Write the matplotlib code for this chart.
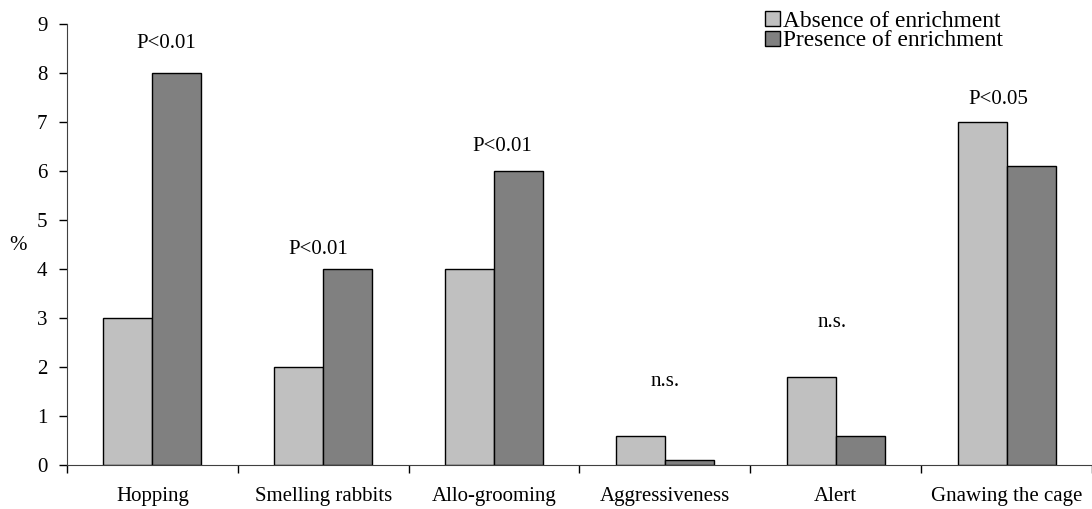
import matplotlib
matplotlib.use("Agg")
import matplotlib.pyplot as plt
import numpy as np
from matplotlib.patches import Patch

categories = ["Hopping", "Smelling rabbits", "Allo-grooming", "Aggressiveness", "Alert", "Gnawing the cage"]
absence = [3, 2, 4, 0.6, 1.8, 7]
presence = [8, 4, 6, 0.1, 0.6, 6.1]
annotations = ["P<0.01", "P<0.01", "P<0.01", "n.s.", "n.s.", "P<0.05"]
ann_y = [8.6, 4.4, 6.5, 1.7, 2.9, 7.45]
ann_dx = [0.08, -0.03, 0.05, 0.0, -0.02, -0.05]
series_names = ["Absence of enrichment", "Presence of enrichment"]

plt.rcParams['font.family'] = ['Liberation Serif', 'DejaVu Serif']

fig = plt.figure(figsize=(10.92, 5.09), dpi=100)
ax = fig.add_axes([67/1092, 1-465/509, 1-67/1092, (465-24)/509])

x = np.arange(len(categories))
w = 0.287
light = "#C0C0C0"
dark = "#808080"
ax.bar(x - w/2, absence, width=w, color=light, edgecolor="black", linewidth=1)
ax.bar(x + w/2, presence, width=w, color=dark, edgecolor="black", linewidth=1)

for i, (t, yy, dx) in enumerate(zip(annotations, ann_y, ann_dx)):
    ax.text(x[i] + dx, yy, t, ha="center", va="center", fontsize=15)

ax.set_xlim(-0.5, len(categories) - 0.5)
ax.set_ylim(0, 9)
ax.set_yticks(range(0, 10))
ax.set_xticks(np.arange(-0.5, len(categories) + 0.5, 1))
ax.set_xticklabels([])
ax.set_xticks(x, minor=True)
ax.set_xticklabels(categories, minor=True, fontsize=15)
ax.tick_params(axis="x", which="minor", length=0, pad=16)
ax.tick_params(axis="x", which="major", length=6, direction="out", width=1)
ax.tick_params(axis="y", length=6, direction="out", width=1, labelsize=15, pad=8)
for s in ["top", "right"]:
    ax.spines[s].set_visible(False)
ax.spines["left"].set_color("#404040")
ax.spines["bottom"].set_color("#404040")

fig.text(18/1092, 1-245/509, "%", fontsize=15, ha="center", va="center")

handles = [Patch(facecolor=light, edgecolor="black", linewidth=1),
           Patch(facecolor=dark, edgecolor="black", linewidth=1)]
fig.legend(handles, series_names, loc="upper left", bbox_to_anchor=(760/1092, 1 - 6/509),
           frameon=False, fontsize=16.8, handlelength=0.65, handleheight=0.65,
           handletextpad=0.15, labelspacing=-0.05, borderpad=0.2, borderaxespad=0)

fig.savefig("out.png", dpi=100)
